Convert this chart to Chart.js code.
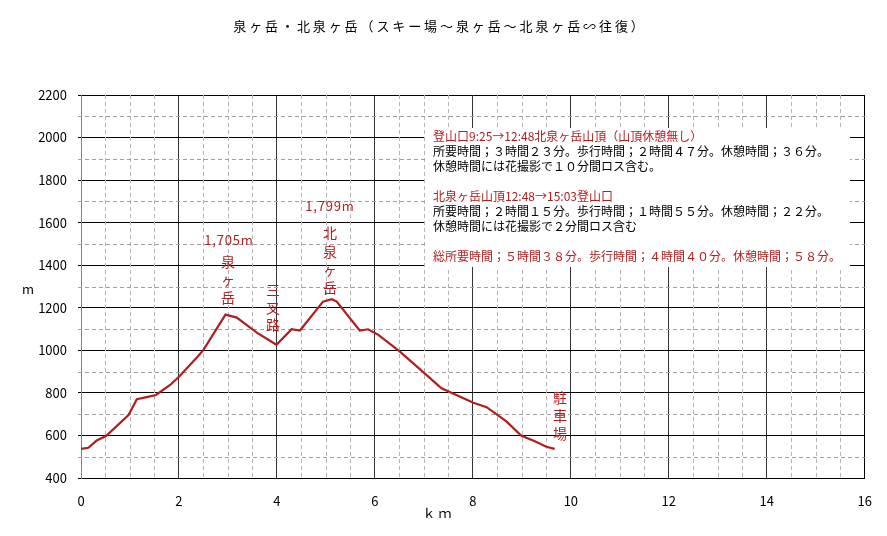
<!DOCTYPE html>
<html><head><meta charset="utf-8">
<script src="https://cdn.jsdelivr.net/npm/chart.js@4/dist/chart.umd.min.js"></script>
<style>html,body{margin:0;padding:0;background:#fff}#wrap{width:887px;height:536px}</style>
</head><body><div id="wrap"><canvas id="c" width="887" height="536"></canvas></div>
<script>
const chartTitle = '泉ヶ岳・北泉ヶ岳（スキー場～泉ヶ岳～北泉ヶ岳∽往復）';
const distanceKm = [0, 0.15, 0.32, 0.51, 0.97, 1.14, 1.34, 1.53, 1.82, 2.0, 2.37, 2.5, 2.95, 3.18, 3.59, 3.99, 4.30, 4.47, 4.94, 5.12, 5.22, 5.69, 5.86, 6.07, 6.51, 7.05, 7.36, 8.01, 8.28, 8.69, 8.99, 9.23, 9.50, 9.67];
const elevationM = [537, 542, 576, 597, 696, 770, 780, 790, 837, 876, 968, 1002, 1168, 1154, 1083, 1026, 1099, 1093, 1229, 1240, 1229, 1093, 1099, 1073, 994, 885, 822, 754, 733, 665, 598, 576, 547, 537];
const xRange = [0, 16];
const yRange = [400, 2200];
const xAxisTitle = 'ｋ ｍ';
const yAxisTitle = 'm';
const infoLines = [
  ['登山口9:25→12:48北泉ヶ岳山頂（山頂休憩無し）', 'red'],
  ['所要時間；３時間２３分。歩行時間；２時間４７分。休憩時間；３６分。', 'black'],
  ['休憩時間には花撮影で１０分間ロス含む。', 'black'],
  ['', ''],
  ['北泉ヶ岳山頂12:48→15:03登山口', 'red'],
  ['所要時間；２時間１５分。歩行時間；１時間５５分。休憩時間；２２分。', 'black'],
  ['休憩時間には花撮影で２分間ロス含む', 'black'],
  ['', ''],
  ['総所要時間；５時間３８分。歩行時間；４時間４０分。休憩時間；５８分。', 'red']
];
const RED = '#b21e1e';
const FONT = '"Noto Sans CJK JP", "Noto Sans", sans-serif';

const overlay = {
  id: 'overlay',
  beforeDatasetsDraw(chart) {
    const {ctx, chartArea: a, scales: {x, y}} = chart;
    ctx.save();
    ctx.lineWidth = 1;
    ctx.setLineDash([4, 3]);
    for (let v = 0.5; v < xRange[1]; v += 0.5) {
      if (v % 2 === 0) continue;
      const px = Math.round(x.getPixelForValue(v)) + 0.5;
      ctx.strokeStyle = '#b4b4b4';
      ctx.beginPath(); ctx.moveTo(px, a.top); ctx.lineTo(px, a.bottom); ctx.stroke();
    }
    for (let v = 500; v < yRange[1]; v += 200) {
      const py = Math.round(y.getPixelForValue(v)) + 0.5;
      ctx.strokeStyle = '#a0a0a0';
      ctx.beginPath(); ctx.moveTo(a.left - 3, py); ctx.lineTo(a.right, py); ctx.stroke();
    }
    ctx.restore();
  },
  afterDraw(chart) {
    const {ctx} = chart;
    ctx.save();
    // title
    ctx.fillStyle = '#000';
    ctx.font = '13px ' + FONT;
    ctx.textAlign = 'center';
    ctx.textBaseline = 'middle';
    ctx.letterSpacing = '2.9px';
    ctx.fillText(chartTitle, 440, 26);
    ctx.letterSpacing = '0px';
    // axis titles
    ctx.font = '13px ' + FONT;
    ctx.fillText(yAxisTitle, 28, 289);
    ctx.fillText(xAxisTitle, 437, 513);
    // info box
    ctx.fillStyle = '#fff';
    ctx.fillRect(425, 128, 425, 139);
    ctx.textAlign = 'left';
    ctx.font = '12px ' + FONT;
    let ly = 136;
    infoLines.forEach(([t, c]) => {
      if (t) { ctx.fillStyle = c === 'red' ? RED : '#000'; ctx.fillText(t, 433, ly); }
      ly += 15.1;
    });
    // annotations
    ctx.fillStyle = RED;
    ctx.textAlign = 'center';
    ctx.font = '13px ' + FONT;
    ctx.letterSpacing = '0.8px';
    ctx.fillText('1,705m', 229, 240);
    ctx.fillText('1,799m', 330, 206);
    ctx.letterSpacing = '0px';
    const vert = (txt, px, py0, step) => {
      [...txt].forEach((ch, i) => ctx.fillText(ch, px, py0 + i * step));
    };
    ctx.font = '14px ' + FONT;
    vert('泉ヶ岳', 228, 262, 18);
    vert('北泉ヶ岳', 330, 233, 18.3);
    vert('三叉路', 273, 290, 17.5);
    vert('駐車場', 560, 398, 18);
    ctx.restore();
  }
};

new Chart(document.getElementById('c'), {
  type: 'line',
  data: {
    datasets: [{
      data: distanceKm.map((d, i) => ({x: d, y: elevationM[i]})),
      borderColor: RED,
      borderWidth: 2.2,
      pointRadius: 0,
      tension: 0,
      fill: false
    }]
  },
  options: {
    responsive: false,
    animation: false,
    devicePixelRatio: 1,
    layout: {padding: {top: 95, right: 22, left: 0, bottom: 0}},
    plugins: {legend: {display: false}, tooltip: {enabled: false}, title: {display: false}},
    scales: {
      x: {
        type: 'linear', min: xRange[0], max: xRange[1],
        afterFit: s => { s.height = 58; },
        ticks: {stepSize: 2, maxRotation: 0, autoSkip: false, padding: 15, color: '#000', font: {family: FONT, size: 13}, callback: v => String(v)},
        grid: {color: ctx => (ctx.tick && ctx.tick.value === 0) ? '#808080' : (ctx.tick && ctx.tick.value === 16 ? '#000' : '#333'), lineWidth: 1, tickLength: 0, drawTicks: false},
        border: {display: true, color: '#000', width: 1}
      },
      y: {
        type: 'linear', min: yRange[0], max: yRange[1],
        afterFit: s => { s.width = 81; },
        ticks: {stepSize: 200, padding: 11, color: '#000', font: {family: FONT, size: 13}, callback: v => String(v)},
        grid: {color: '#000', lineWidth: 1, tickLength: 3},
        border: {display: true, color: '#808080', width: 1}
      }
    }
  },
  plugins: [overlay]
});
</script>
</body></html>
